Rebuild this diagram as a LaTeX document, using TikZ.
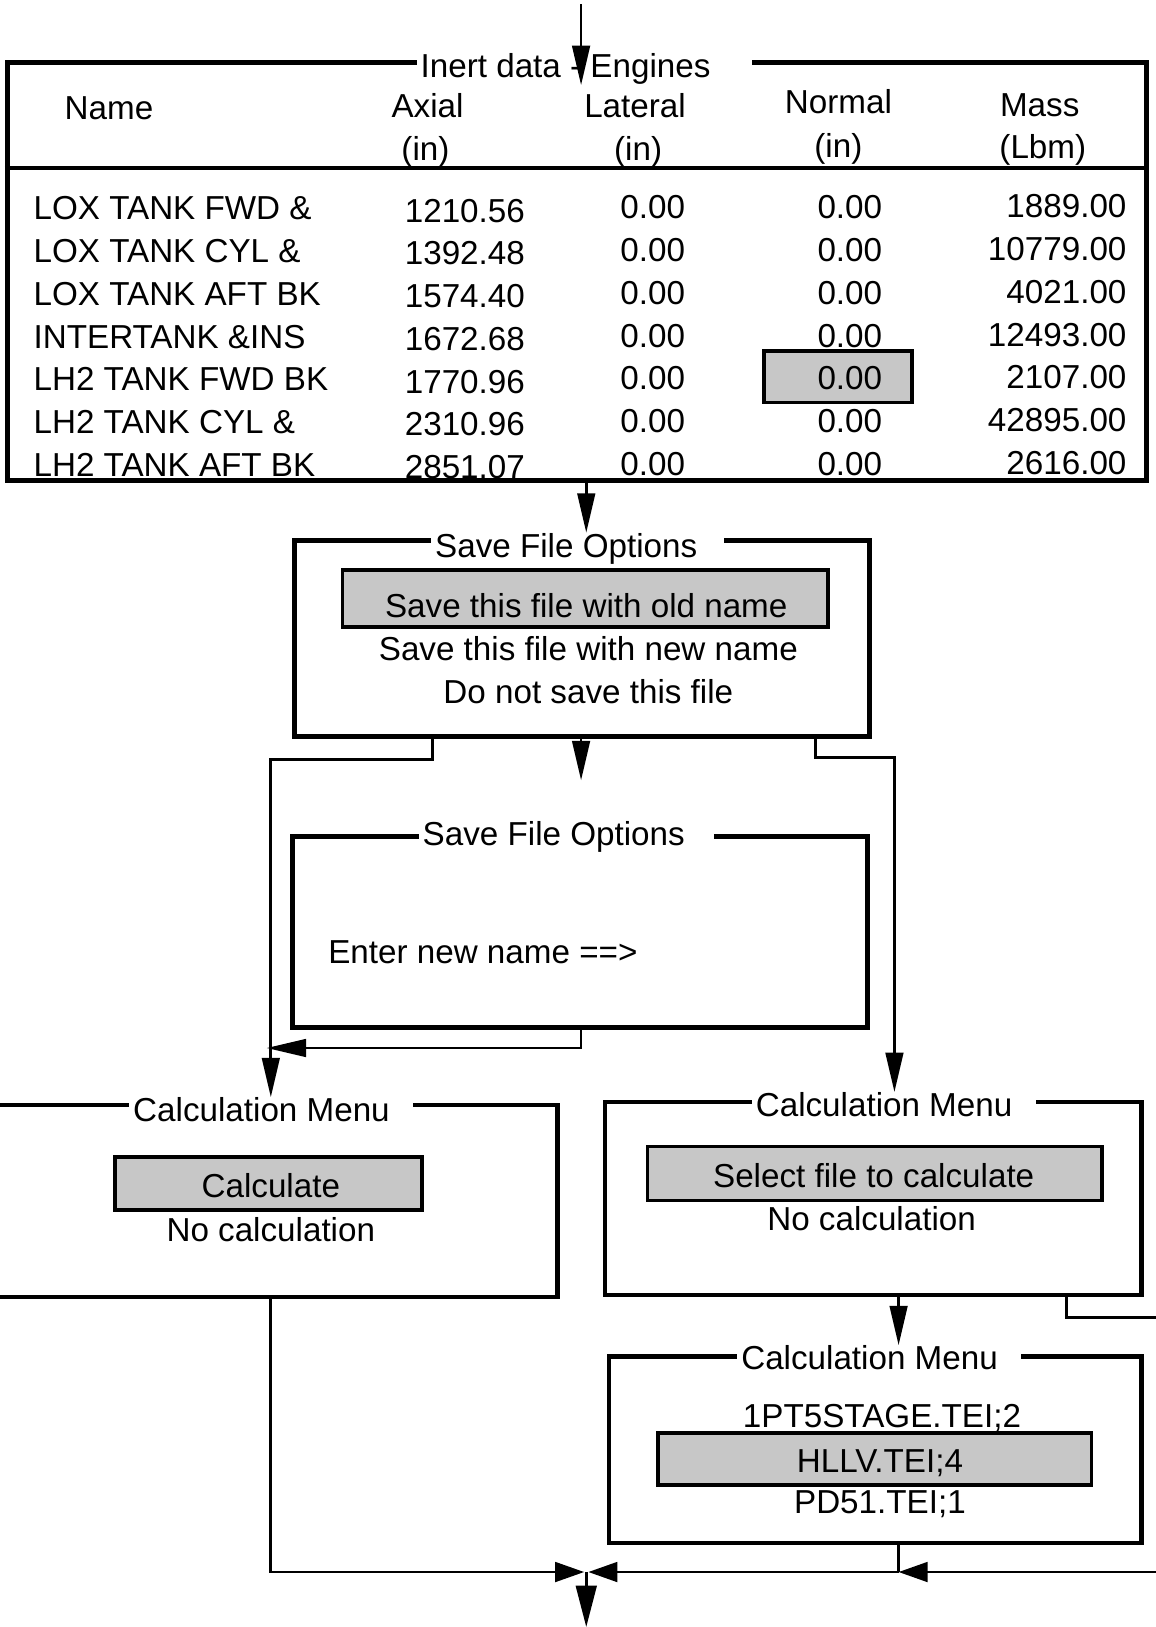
\documentclass[tikz,border=0pt]{standalone}
\usepackage{fontspec}
\setmainfont{Liberation Sans}
\usetikzlibrary{arrows.meta,fit,calc}
\newcommand{\fs}{\fontsize{16pt}{19pt}\selectfont}
\begin{document}
\begin{tikzpicture}[x=0.5pt,y=-0.5pt,
  frame/.style={draw, line width=2.3pt, inner sep=0pt},
  hl/.style={draw, line width=1.8pt, fill=black!22, inner sep=0pt},
  ttl/.style={fill=white, inner xsep=2pt, inner ysep=0pt, anchor=base west, font=\fs},
  txt/.style={inner sep=0pt, anchor=base, font=\fs},
  txl/.style={inner sep=0pt, anchor=base west, font=\fs},
  txr/.style={inner sep=0pt, anchor=base east, font=\fs},
  conn/.style={line width=1.3pt},
  arr/.style={conn, -{Triangle[length=19pt,width=8.5pt]}},
  arrb/.style={conn, -{Triangle[length=14pt,width=9.5pt]}},
  arrd/.style={conn, -{Triangle[length=20pt,width=10pt]}},
]
\useasboundingbox (0,0) rectangle (1114,1568);
\clip (0,0) rectangle (1114,1568);

% ---------------- table ----------------
\coordinate (tA) at (7,60);
\coordinate (tB) at (1105,463);
\coordinate (hsep) at (0,162);
\node[hl, fit={(736,338) (879,388)}] (hlc) {};
\node[txt] (hName) at (105,115) {Name};
\node[txt] (hAx) at (412,113) {Axial};
\node[txt] (hAxu) at (410,155) {(in)};
\node[txt] (hLat) at (612,113) {Lateral};
\node[txt] (hLatu) at (615,155) {(in)};
\node[txt] (hNor) at (808,109) {Normal};
\node[txt] (hNoru) at (808,152) {(in)};
\node[txt] (hMas) at (1002,112) {Mass};
\node[txt] (hMasu) at (1005,153) {(Lbm)};
\foreach \nm/\ax/\ma [count=\i] in {
  LOX TANK FWD \&/1210.56/1889.00,
  LOX TANK CYL \&/1392.48/10779.00,
  LOX TANK AFT BK/1574.40/4021.00,
  INTERTANK \&INS/1672.68/12493.00,
  LH2 TANK FWD BK/1770.96/2107.00,
  LH2 TANK CYL \&/2310.96/42895.00,
  LH2 TANK AFT BK/2851.07/2616.00}{
  \pgfmathsetmacro\yb{212+41.2*(\i-1)}
  \node[txl] (nm\i) at (32,\yb) {\nm};
  \node[txt] (ax\i) at (448,\yb+2) {\ax};
  \node[txt] (la\i) at (629,\yb-1) {0.00};
  \node[txt] (no\i) at (819,\yb-1) {0.00};
  \node[txr] (ma\i) at (1086,\yb-2) {\ma};
}
\node[frame, fit=(tA)(tB)] (tbl) {};
\draw[line width=2.3pt] (tbl.west |- hsep) -- (tbl.east |- hsep);
\node[ttl] (tblt) at (401,75) {Inert data - Engines\hspace*{18pt}};

% ---------------- save file options 1 ----------------
\coordinate (s1A) at (284,521);
\coordinate (s1B) at (838,710);
\node[frame, fit=(s1A)(s1B)] (s1) {};
\node[ttl] (s1t) at (415,537) {Save File Options\hspace*{11pt}};
\node[hl, fit={(330,549) (798,604)}] (s1h) {};
\node[txt] (s1o1) at (565,595) {Save this file with old name};
\node[txt] (s1o2) at (567,637) {Save this file with new name};
\node[txt] (s1o3) at (567,678) {Do not save this file};

% ---------------- save file options 2 ----------------
\coordinate (s2A) at (282,806);
\coordinate (s2B) at (836,990);
\node[frame, fit=(s2A)(s2B)] (s2) {};
\node[ttl] (s2t) at (403,815) {Save File Options\hspace*{12pt}};
\node[txl] (s2e) at (316,929) {Enter new name ==>};

% ---------------- calculation menu left ----------------
\coordinate (c1A) at (-20,1065);
\coordinate (c1B) at (537,1250);
\node[frame, fit=(c1A)(c1B)] (cl1) {};
\node[ttl] (cl1t) at (124,1081) {Calculation Menu\hspace*{9pt}};
\node[hl, fit={(111,1115) (407,1166)}] (cl1h) {};
\node[txt] (cl1o1) at (261,1154) {Calculate};
\node[txt] (cl1o2) at (261,1196) {No calculation};

% ---------------- calculation menu right ----------------
\coordinate (c2A) at (583,1062);
\coordinate (c2B) at (1100,1248);
\node[frame, fit=(c2A)(c2B)] (cr1) {};
\node[ttl] (cr1t) at (724,1076) {Calculation Menu\hspace*{9.5pt}};
\node[hl, fit={(624,1105) (1062,1157)}] (cr1h) {};
\node[txt] (cr1o1) at (842,1144) {Select file to calculate};
\node[txt] (cr1o2) at (840,1186) {No calculation};

% ---------------- calculation menu files ----------------
\coordinate (c3A) at (587,1307);
\coordinate (c3B) at (1100,1487);
\node[frame, fit=(c3A)(c3B)] (cr2) {};
\node[ttl] (cr2t) at (710,1320) {Calculation Menu\hspace*{9pt}};
\node[txt] (cr2o1) at (850,1376) {1PT5STAGE.TEI;2};
\node[hl, fit={(634,1381) (1052,1431)}] (cr2h) {};
\node[txt] (cr2o2) at (848,1419) {HLLV.TEI;4};
\node[txt] (cr2o3) at (848,1459) {PD51.TEI;1};

% ---------------- connectors ----------------
\coordinate (in0) at (560,4);
\draw[arr] (in0) -- (in0 |- tblt.south);

\coordinate (x1) at (565,0);
\draw[arr] (tbl.south -| x1) -- (s1t.north -| x1);

\coordinate (L1) at (417,732);
\coordinate (L2) at (261,732);
\draw[arr] (s1.south -| L1) -- (L1) -- (L2) -- (L2 |- cl1t.north);

\coordinate (M1) at (560,752);
\draw[arr] (s1.south -| M1) -- (M1);

\coordinate (R1) at (786,730);
\coordinate (R2) at (862,730);
\draw[arr] (s1.south -| R1) -- (R1) -- (R2) -- (R2 |- cr1t.north);

\coordinate (B1) at (560,1010);
\coordinate (B2) at (257,1010);
\draw[arr] (s2.south -| B1) -- (B1) -- (B2);

\coordinate (J) at (565,1515);
\coordinate (Jl) at (563,1515);
\coordinate (Jr) at (567,1515);
\draw[arrb] (cl1.south -| L2) -- (L2 |- J) -- (Jl);

\coordinate (X2) at (866,0);
\draw[arr] (cr1.south -| X2) -- (cr2t.north -| X2);

\coordinate (E1) at (1028,1270);
\coordinate (E2) at (1130,1270);
\draw[conn] (cr1.south -| E1) -- (E1) -- (E2);

\coordinate (K) at (866,1515);
\coordinate (E3) at (1130,1515);
\draw[conn] (cr2.south -| K) -- (K);
\draw[arrb] (E3) -- (K);
\draw[arrb] (K) -- (Jr);

\coordinate (out) at (565,1568);
\draw[arrd] (J) -- (out);
\end{tikzpicture}
\end{document}
